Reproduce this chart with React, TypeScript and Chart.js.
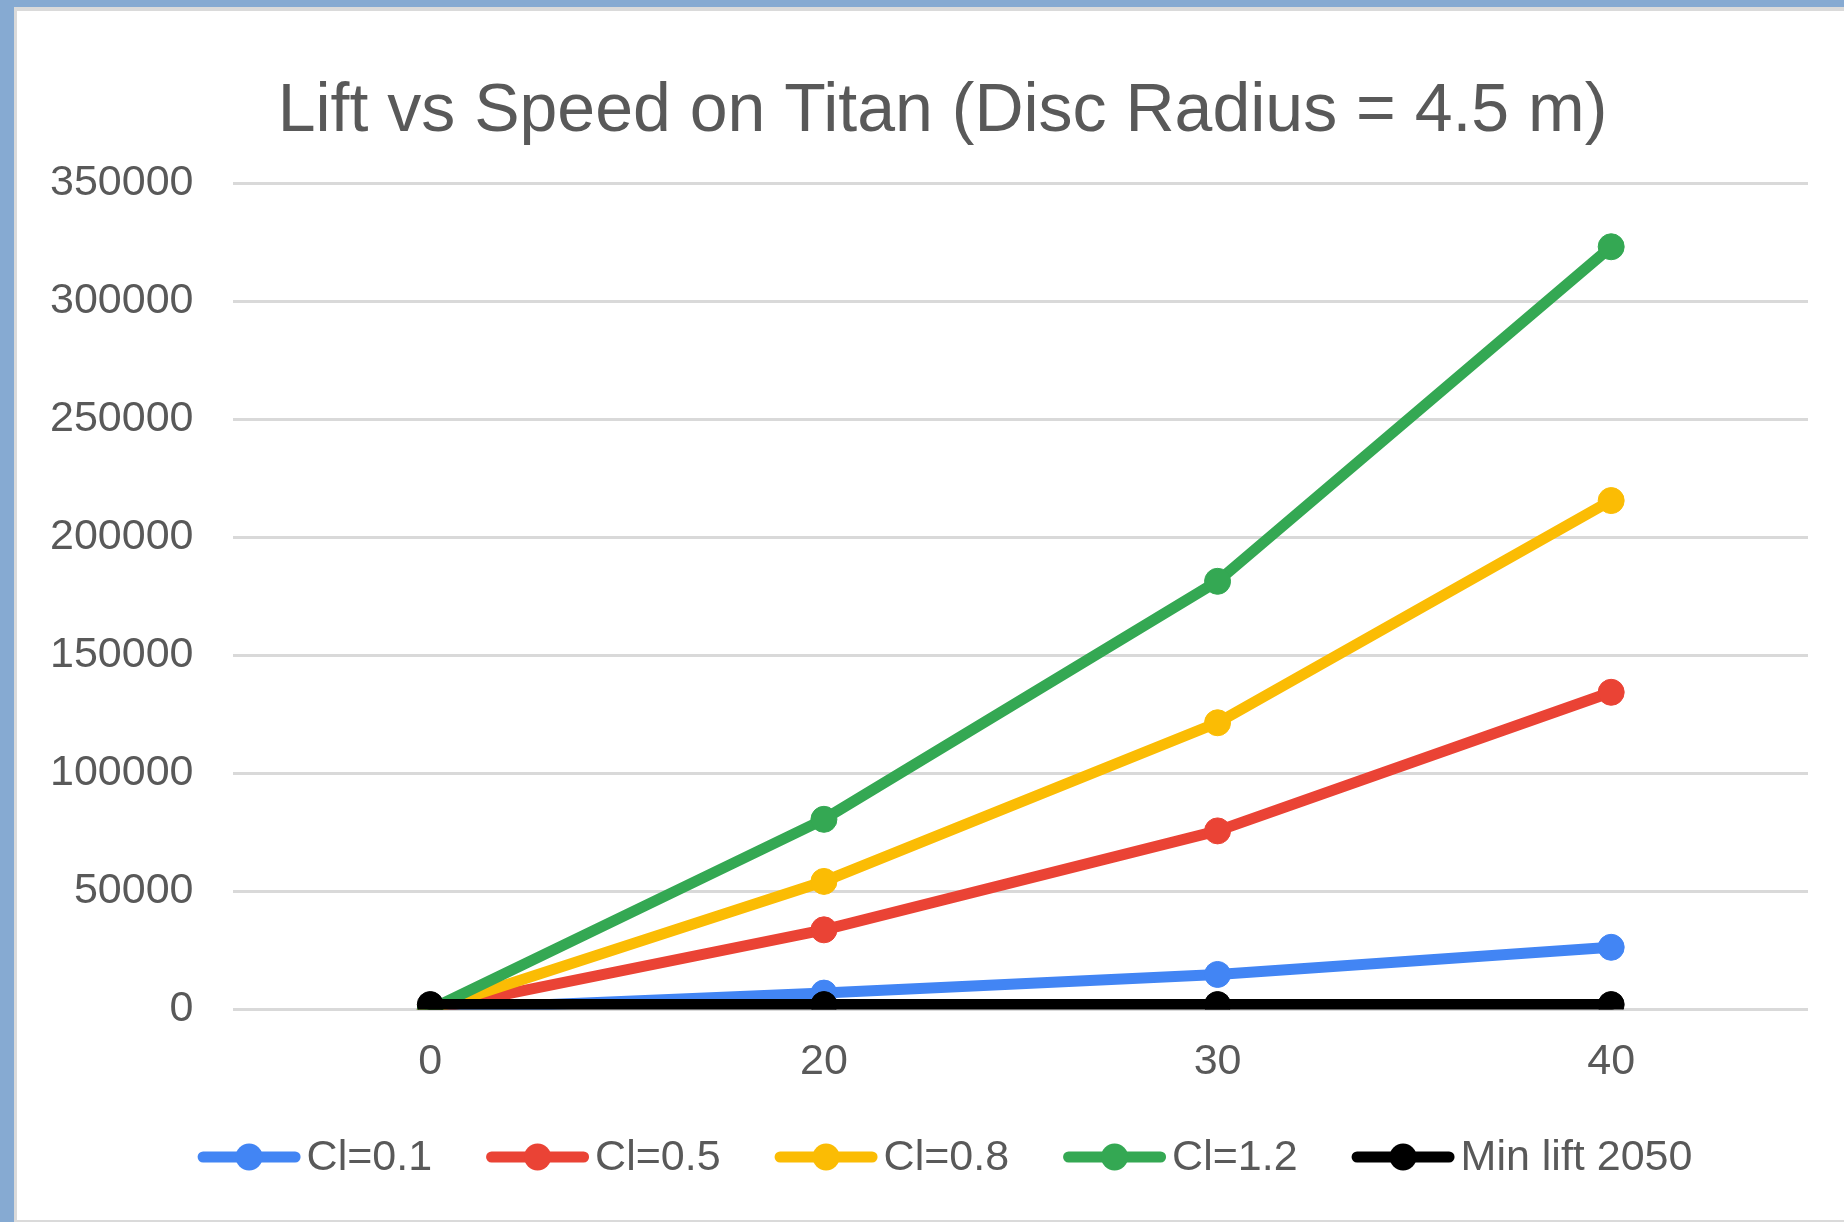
import React, { useEffect, useRef } from "react";
import { Chart, registerables } from "chart.js";

Chart.register(...registerables);

const speeds = ["0", "20", "30", "40"];
const cl01 = [0, 6900, 14800, 26300];
const cl05 = [0, 33700, 75600, 134300];
const cl08 = [0, 54200, 121400, 215500];
const cl12 = [0, 80500, 181300, 323000];
const minLift = [2050, 2050, 2050, 2050];
const seriesLabels = ["Cl=0.1", "Cl=0.5", "Cl=0.8", "Cl=1.2", "Min lift 2050"];
const seriesColors = ["#4285F4", "#EA4335", "#FBBC04", "#34A853", "#000000"];
const titleText = "Lift vs Speed on Titan (Disc Radius = 4.5 m)";
const yMin = 0;
const yMax = 350000;
const yStep = 50000;

const FONT = '"Liberation Sans", Arial, sans-serif';
const TEXT = "#595959";

const overlayPlugin = {
  id: "overlay",
  afterDraw(chart: any) {
    const ctx = chart.ctx as CanvasRenderingContext2D;
    ctx.save();
    // title
    ctx.fillStyle = TEXT;
    ctx.font = `68px ${FONT}`;
    ctx.textAlign = "center";
    ctx.textBaseline = "alphabetic";
    ctx.fillText(titleText, 925.5, 120);

    // legend
    ctx.font = `43px ${FONT}`;
    ctx.textAlign = "left";
    let x = 180.6;
    const lineY = 1146;
    const textY = 1159;
    const lineLen = 103;
    const lw = 11;
    seriesLabels.forEach((lab, i) => {
      ctx.strokeStyle = seriesColors[i];
      ctx.fillStyle = seriesColors[i];
      ctx.lineWidth = lw;
      ctx.lineCap = "round";
      ctx.beginPath();
      ctx.moveTo(x + lw / 2, lineY);
      ctx.lineTo(x + lineLen - lw / 2, lineY);
      ctx.stroke();
      ctx.beginPath();
      ctx.arc(x + lineLen / 2, lineY, 13.5, 0, Math.PI * 2);
      ctx.fill();
      ctx.fillStyle = TEXT;
      const tx = x + lineLen + 6;
      ctx.fillText(lab, tx, textY);
      x = tx + ctx.measureText(lab).width + 54;
    });
    ctx.restore();
  },
};

export default function App() {
  const ref = useRef<HTMLCanvasElement | null>(null);

  useEffect(() => {
    if (!ref.current) return;
    const allSeries = [cl01, cl05, cl08, cl12, minLift];
    const chart = new Chart(ref.current, {
      type: "line",
      data: {
        labels: speeds,
        datasets: allSeries.map((d, i) => ({
          label: seriesLabels[i],
          data: d,
          borderColor: seriesColors[i],
          backgroundColor: seriesColors[i],
          pointBackgroundColor: seriesColors[i],
          pointBorderColor: seriesColors[i],
          borderWidth: 11,
          pointRadius: 13,
          pointBorderWidth: 1,
          pointHoverRadius: 13,
          borderJoinStyle: "round",
          borderCapStyle: "round",
          tension: 0,
          fill: false,
          order: 4 - i,
        })),
      },
      options: {
        responsive: false,
        devicePixelRatio: 1,
        animation: false,
        layout: { padding: { top: 172, left: -7, right: 36, bottom: 105 } },
        plugins: {
          legend: { display: false },
          title: { display: false },
          tooltip: { enabled: false },
        },
        scales: {
          x: {
            type: "category",
            offset: true,
            grid: { display: false, drawTicks: false },
            border: { display: false },
            ticks: {
              color: TEXT,
              padding: 27,
              font: { family: FONT, size: 43 },
              maxRotation: 0,
            },
          },
          y: {
            min: yMin,
            max: yMax,
            grid: { color: "#d9d9d9", lineWidth: 3, drawTicks: false },
            border: { display: false },
            ticks: {
              stepSize: yStep,
              color: TEXT,
              padding: 40,
              font: { family: FONT, size: 43 },
              callback: (v: any) => String(v),
            },
          },
        },
      },
      plugins: [overlayPlugin],
    });
    return () => chart.destroy();
  }, []);

  return (
    <div
      style={{
        position: "fixed",
        left: 0,
        top: 0,
        width: 1844,
        height: 1222,
        background: "#86AAD2",
        overflow: "hidden",
      }}
    >
      <div
        style={{
          position: "absolute",
          left: 14,
          top: 7,
          width: 1830,
          height: 1215,
          background: "#ffffff",
          borderLeft: "3px solid #dadada",
          borderTop: "4px solid #dadada",
          borderBottom: "2px solid #dadada",
          boxSizing: "border-box",
        }}
      >
        <canvas
          ref={ref}
          width={1827}
          height={1209}
          style={{ display: "block", width: 1827, height: 1209 }}
        />
      </div>
    </div>
  );
}
